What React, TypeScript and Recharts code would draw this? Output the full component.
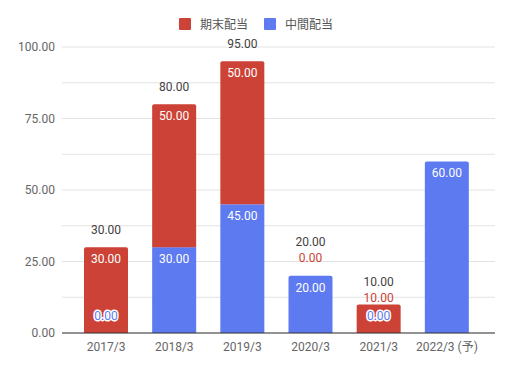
import React from 'react';
import { BarChart, Bar, XAxis, YAxis, CartesianGrid, LabelList } from 'recharts';

const categories = ['2017/3', '2018/3', '2019/3', '2020/3', '2021/3', '2022/3 (予)'];
const interimDividend = [0, 30, 45, 20, 0, 60];
const finalDividend: (number | null)[] = [30, 50, 50, 0, 10, null];
const totalDividend: (number | null)[] = [30, 80, 95, 20, 10, null];
const yTicks = [0, 12.5, 25, 37.5, 50, 62.5, 75, 87.5, 100];

const RED = '#cc4236';
const BLUE = '#5d7af1';
const FONT = 'Roboto, "Noto Sans CJK JP", sans-serif';

const data = categories.map((name, i) => ({
  name,
  interim: interimDividend[i],
  final: finalDividend[i],
  total: totalDividend[i],
}));

const roundedTopPath = (x: number, y: number, w: number, h: number, r: number) => {
  const rr = Math.min(r, h, w / 2);
  return `M${x},${y + h} L${x},${y + rr} Q${x},${y} ${x + rr},${y} L${x + w - rr},${y} Q${x + w},${y} ${x + w},${y + rr} L${x + w},${y + h} Z`;
};

const InterimShape = (props: any) => {
  const { x, y, width, height, index } = props;
  if (!height || height <= 0) return null;
  const f = finalDividend[index];
  const isTop = f === null || f === 0;
  if (isTop) return <path d={roundedTopPath(x, y, width, height, 2)} fill={BLUE} />;
  return <rect x={x} y={y} width={width} height={height} fill={BLUE} />;
};

const FinalShape = (props: any) => {
  const { x, y, width, height } = props;
  if (!height || height <= 0) return null;
  return <path d={roundedTopPath(x, y, width, height, 2)} fill={RED} />;
};

const fmt = (v: number) => v.toFixed(2);

const InterimLabel = (props: any) => {
  const { x, y, width, height, index } = props;
  const v = interimDividend[index];
  if (v === null || v === undefined) return null;
  const cx = Number(x) + Number(width) / 2;
  if (v === 0) {
    const base = Number(y) + Number(height);
    return (
      <text x={cx} y={base - 17} textAnchor="middle" dominantBaseline="central" fontFamily={FONT} fontSize={12}
        fill={BLUE} stroke="#ffffff" strokeWidth={3} strokeLinejoin="round" style={{ paintOrder: 'stroke' }}>
        {fmt(v)}
      </text>
    );
  }
  return (
    <text x={cx} y={Number(y) + 12} textAnchor="middle" dominantBaseline="central" fontFamily={FONT} fontSize={12} fill="#ffffff">
      {fmt(v)}
    </text>
  );
};

const FinalLabel = (props: any) => {
  const { x, y, width, height, index } = props;
  const v = finalDividend[index];
  const t = totalDividend[index];
  if (v === null || v === undefined) return null;
  const cx = Number(x) + Number(width) / 2;
  const top = Number(y);
  const h = Number(height);
  let redEl: React.ReactNode;
  let totalY: number;
  if (v === 0) {
    const ly = top - 18;
    redEl = (
      <text x={cx} y={ly} textAnchor="middle" dominantBaseline="central" fontFamily={FONT} fontSize={12} fill={RED}>
        {fmt(v)}
      </text>
    );
    totalY = ly - 16;
  } else if (h < 30) {
    const ly = top - 6.5;
    redEl = (
      <text x={cx} y={ly} textAnchor="middle" dominantBaseline="central" fontFamily={FONT} fontSize={12} fill={RED}>
        {fmt(v)}
      </text>
    );
    totalY = ly - 16;
  } else {
    redEl = (
      <text x={cx} y={top + 12} textAnchor="middle" dominantBaseline="central" fontFamily={FONT} fontSize={12} fill="#ffffff">
        {fmt(v)}
      </text>
    );
    totalY = top - 17.5;
  }
  return (
    <g>
      {redEl}
      {t !== null && t !== undefined ? (
        <text x={cx} y={totalY} textAnchor="middle" dominantBaseline="central" fontFamily={FONT} fontSize={12} fill="#424242">
          {fmt(t)}
        </text>
      ) : null}
    </g>
  );
};

const legendItems = [
  { label: '期末配当', color: RED },
  { label: '中間配当', color: BLUE },
];

export default function App() {
  return (
    <div style={{ position: 'absolute', left: 0, top: 0, width: 509, height: 369, background: '#ffffff' }}>
      <div style={{ position: 'absolute', left: 179, top: 17, display: 'flex', alignItems: 'center', fontFamily: '"Noto Sans CJK JP", sans-serif', fontSize: 12, color: '#555', lineHeight: '14px' }}>
        {legendItems.map((it, i) => (
          <div key={it.label} style={{ display: 'flex', alignItems: 'center', marginRight: i === 0 ? 16 : 0 }}>
            <span style={{ display: 'inline-block', width: 12, height: 12, background: it.color, borderRadius: 1, marginRight: 9 }} />
            <span>{it.label}</span>
          </div>
        ))}
      </div>
      <BarChart width={509} height={369} data={data} margin={{ top: 47, right: 14, bottom: 6, left: 0 }}>
        <CartesianGrid vertical={false} stroke="#e3e3e3" />
        <XAxis dataKey="name" height={30} padding={{ left: 10, right: 14 }} tickLine={false} tickSize={0} tickMargin={9}
          axisLine={{ stroke: '#333333' }} tick={{ fill: '#666666', fontSize: 12, fontFamily: FONT }} interval={0} />
        <YAxis domain={[0, 100]} ticks={yTicks} width={62} axisLine={false} tickLine={false} tickSize={0} tickMargin={7}
          tickFormatter={(v: number) => (v % 25 === 0 ? v.toFixed(2) : '')}
          tick={{ fill: '#666666', fontSize: 12, fontFamily: FONT }} />
        <Bar dataKey="interim" stackId="a" fill={BLUE} barSize={44} shape={InterimShape} isAnimationActive={false}>
          <LabelList dataKey="interim" content={InterimLabel} />
        </Bar>
        <Bar dataKey="final" stackId="a" fill={RED} barSize={44} shape={FinalShape} isAnimationActive={false}>
          <LabelList dataKey="final" content={FinalLabel} />
        </Bar>
      </BarChart>
    </div>
  );
}
